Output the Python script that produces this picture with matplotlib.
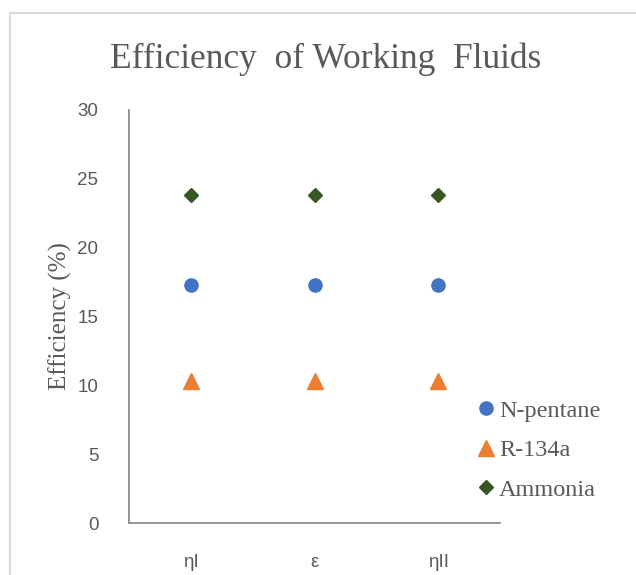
import matplotlib
matplotlib.use("Agg")
import matplotlib.pyplot as plt
from matplotlib.patches import Rectangle

categories = ["ηI", "ε", "ηII"]
series_names = ["N-pentane", "R-134a", "Ammonia"]
npentane = [17.3, 17.3, 17.3]
r134a = [10.3, 10.3, 10.3]
ammonia = [23.8, 23.8, 23.8]
yticks = [0, 5, 10, 15, 20, 25, 30]

W, H = 636, 575
fig = plt.figure(figsize=(W / 100, H / 100), dpi=100)
fig.patch.set_facecolor("white")

# outer chart border (partially visible)
fig.patches.append(Rectangle((10 / W, -0.1), 1.2, (1 - 13 / H) + 0.1,
                             transform=fig.transFigure, fill=False,
                             edgecolor="#d9d9d9", linewidth=1.5, zorder=0))

ax = fig.add_axes([129 / W, 1 - 523 / H, (500 - 129) / W, (523 - 110) / H])

text_color = "#595959"
axis_color = "#8c8c8c"
serif = ["Liberation Serif", "DejaVu Serif"]
sans = ["Liberation Sans", "DejaVu Sans"]

x = list(range(len(categories)))
ax.plot(x, npentane, linestyle="none", marker="o", markersize=9.5,
        color="#4472C4", label=series_names[0])
ax.plot(x, r134a, linestyle="none", marker="^", markersize=11,
        color="#ED7D31", label=series_names[1])
ax.plot(x, ammonia, linestyle="none", marker="D", markersize=7.5,
        color="#375623", label=series_names[2])

ax.set_xlim(-0.5, len(categories) - 0.5)
ax.set_ylim(0, 30)
ax.set_yticks(yticks)
ax.set_xticks(x)
ax.set_xticklabels(categories)
for s in ["top", "right"]:
    ax.spines[s].set_visible(False)
for s in ["left", "bottom"]:
    ax.spines[s].set_color(axis_color)
    ax.spines[s].set_linewidth(1.3)
ax.tick_params(axis="both", length=0, colors=text_color, labelsize=13.5)
ax.tick_params(axis="y", pad=22)
ax.tick_params(axis="x", pad=22)
for lab in ax.get_xticklabels() + ax.get_yticklabels():
    lab.set_family(sans)

ax.set_ylabel("Efficiency (%)", fontsize=18, color=text_color, family=serif,
              labelpad=4)

fig.text(326 / W, 1 - 68 / H, "Efficiency  of Working  Fluids",
         ha="center", va="baseline", fontsize=25.5, color=text_color,
         family=serif)

leg = fig.legend(loc="upper left", bbox_to_anchor=(454 / W, 1 - 378 / H),
                 frameon=False, handlelength=0.8, handletextpad=0.15,
                 labelspacing=0.72, prop={"family": serif, "size": 17.5})
for t in leg.get_texts():
    t.set_color(text_color)

fig.savefig("out.png", dpi=100)
